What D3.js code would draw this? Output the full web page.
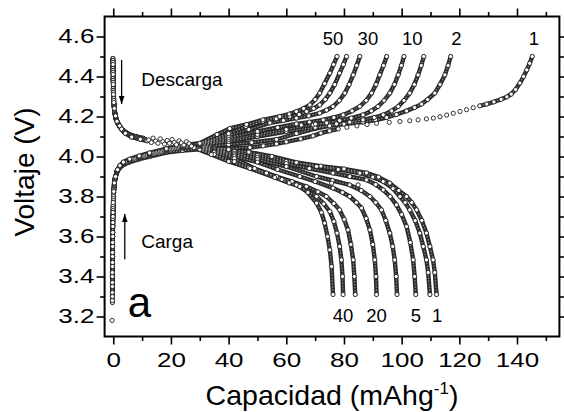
<!DOCTYPE html>
<html>
<head>
<meta charset="utf-8">
<script src="https://cdn.jsdelivr.net/npm/d3@7"></script>
<style>
  html, body { margin: 0; padding: 0; background: #fff; }
  svg { display: block; }
  text { font-family: "Liberation Sans", Arial, Helvetica, sans-serif; fill: #000; }
</style>
</head>
<body>
<svg id="chart" width="564" height="412"></svg>
<script>
// ---------------- data (capacity mAh/g, voltage V) ----------------
const cycles = [1, 2, 5, 10, 20, 30, 40, 50];

// Charge curves ("Carga"); null = break where the recorder sampled sparsely
const chargeC1 = [[-0.3,3.27],[-0.27,3.35],[-0.24,3.45],[-0.2,3.55],[-0.15,3.65],[-0.05,3.75],[0.15,3.82],[0.45,3.875],[1.2,3.918],[2.2,3.942],[3.5,3.958],[5.7,3.972],[9,3.987],[12.6,4.0],[18.4,4.02],[24,4.03],[30,4.036],[40,4.04],[47.4,4.045],[52,4.053],[56.6,4.063],[60,4.073],[65,4.088],[69.3,4.103],[72,4.117],[75,4.128],[78,4.138],
  null,[127.1,4.253],[129.5,4.262],[132,4.273],[134.5,4.286],[136.5,4.298],[138,4.312],[139.5,4.335],[141,4.367],[142.3,4.4],[143.4,4.433],[144.4,4.466],[145.3,4.5]];
const chargeC1Sparse = [[-0.4,3.18],[81,4.146],[84.5,4.153],[88,4.16],[91.3,4.166],[95.7,4.171],[99.4,4.175],[102.8,4.179],[105.7,4.183],[108.6,4.188],[111,4.192],[113.3,4.199],[115.6,4.207],[117.9,4.216],[120.2,4.225],[122.5,4.234],[124.8,4.244]];
const chargeC2 = [[-0.3,3.28],[-0.26,3.4],[-0.22,3.5],[-0.17,3.6],[-0.1,3.7],[0.05,3.78],[0.25,3.84],[0.55,3.883],[1.2,3.922],[2.2,3.946],[3.5,3.961],[5.7,3.976],[9,3.991],[12.6,4.005],[18.4,4.025],[24,4.04],[30,4.05],[40,4.06],[48,4.07],[56.6,4.085],[63.5,4.115],[70,4.14],[75,4.153],[80,4.162],[86.6,4.172],[91,4.182],[94.8,4.195],[98.2,4.21],[101.7,4.228],[104.5,4.245],[106.9,4.262],[109,4.285],[111.5,4.317],[113.3,4.36],[115,4.408],[116.1,4.455],[117,4.5]];
const chargeC5 = [[-0.3,3.3],[-0.26,3.4],[-0.22,3.5],[-0.17,3.6],[-0.1,3.7],[0.05,3.78],[0.25,3.84],[0.55,3.886],[1.2,3.925],[2.2,3.948],[3.5,3.963],[5.7,3.978],[9,3.993],[12.6,4.008],[18.4,4.028],[24,4.045],[30,4.055],[40,4.075],[50,4.1],[60,4.125],[70,4.145],[77.4,4.163],[82,4.172],[86.6,4.183],[90.5,4.195],[93.6,4.208],[96.5,4.228],[98.8,4.25],[100.8,4.28],[102.8,4.317],[104.4,4.36],[105.7,4.408],[106.8,4.455],[107.7,4.5]];
const chargeC10 = [[-0.3,3.32],[-0.25,3.42],[-0.2,3.52],[-0.15,3.62],[-0.08,3.72],[0.08,3.79],[0.3,3.85],[0.6,3.888],[1.3,3.927],[2.2,3.95],[3.5,3.965],[5.7,3.98],[9,3.995],[12.6,4.01],[18.4,4.03],[24,4.047],[30,4.058],[40,4.085],[50,4.11],[60,4.135],[69.3,4.158],[74,4.168],[78.5,4.18],[82.5,4.192],[86.6,4.208],[89.5,4.228],[91.8,4.25],[93.9,4.28],[95.9,4.317],[97.5,4.36],[98.8,4.408],[99.9,4.455],[100.8,4.5]];
const chargeC20 = [[-0.3,3.35],[-0.25,3.45],[-0.2,3.55],[-0.14,3.65],[-0.05,3.74],[0.1,3.8],[0.3,3.855],[0.65,3.89],[1.3,3.928],[2.2,3.951],[3.5,3.966],[5.7,3.981],[9,3.997],[12.6,4.012],[18.4,4.033],[24,4.05],[30,4.06],[40,4.095],[50,4.125],[57,4.145],[63.5,4.163],[68,4.172],[72.8,4.183],[76.5,4.195],[79.7,4.208],[82.8,4.228],[85.5,4.25],[87.7,4.28],[89.6,4.317],[91.1,4.36],[92.4,4.408],[93.7,4.455],[94.8,4.5]];
const chargeC30 = [[-0.3,3.37],[-0.25,3.47],[-0.2,3.57],[-0.13,3.67],[-0.04,3.75],[0.12,3.81],[0.35,3.86],[0.7,3.893],[1.4,3.93],[2.2,3.952],[3.5,3.968],[5.7,3.983],[9,3.999],[12.6,4.014],[18.4,4.035],[24,4.052],[30,4.062],[40,4.105],[47,4.135],[54.3,4.168],[59,4.18],[63.5,4.192],[67.8,4.203],[71.6,4.217],[74,4.232],[76.2,4.25],[78.4,4.28],[80.3,4.317],[81.8,4.36],[83.2,4.408],[84.4,4.455],[85.5,4.5]];
const chargeC40 = [[-0.3,3.4],[-0.25,3.5],[-0.19,3.6],[-0.12,3.69],[-0.03,3.76],[0.14,3.82],[0.38,3.865],[0.75,3.896],[1.5,3.932],[2.3,3.953],[3.5,3.97],[5.7,3.985],[9,4.001],[12.6,4.016],[18.4,4.037],[24,4.054],[30,4.064],[40,4.115],[46,4.15],[51.9,4.175],[56.5,4.188],[61.2,4.2],[64.5,4.21],[67,4.225],[69.5,4.24],[71.6,4.258],[73.5,4.285],[75.1,4.317],[76.8,4.36],[78.5,4.417],[79.8,4.46],[80.9,4.5]];
const chargeC50 = [[-0.3,3.42],[-0.24,3.52],[-0.18,3.62],[-0.1,3.7],[0,3.77],[0.16,3.825],[0.4,3.868],[0.8,3.9],[1.5,3.934],[2.3,3.955],[3.5,3.972],[5.7,3.987],[9,4.003],[12.6,4.018],[18.4,4.039],[24,4.056],[30,4.066],[36,4.11],[40.4,4.14],[46.2,4.16],[51.9,4.183],[57.7,4.2],[61,4.212],[63.5,4.225],[66,4.24],[68.2,4.258],[70,4.285],[71.6,4.317],[73.3,4.365],[75.1,4.417],[76.4,4.46],[77.6,4.5]];

// Discharge curves ("Descarga")
const dischargeC1 = [[-0.15,4.49],[-0.12,4.44],[-0.08,4.39],[-0.02,4.34],[0.08,4.3],[0.22,4.26],[0.45,4.222],[0.9,4.19],[1.5,4.167],[2.2,4.15],[3.5,4.13],[5.7,4.11],[8,4.1],[10.3,4.092],
  null,[28,4.058],[35,4.045],[40,4.035],[47,4.022],[55,4.0],[63.5,3.97],[72,3.952],[80,3.938],[87.8,3.918],[92,3.897],[95.9,3.867],[99,3.83],[101.7,3.8],[103.5,3.77],[105.2,3.733],[107,3.68],[108.6,3.617],[109.8,3.55],[110.9,3.483],[111.5,3.42],[112.1,3.31]];
const dischargeC2 = [[-0.12,4.49],[-0.1,4.44],[-0.06,4.39],[0,4.34],[0.1,4.3],[0.25,4.26],[0.5,4.222],[0.95,4.19],[1.6,4.166],[2.3,4.149],[3.6,4.128],[5.8,4.109],[8.2,4.098],[10.5,4.09],
  null,[28,4.056],[35,4.04],[42,4.025],[50,4.005],[60,3.975],[70.5,3.95],[78,3.935],[85.5,3.917],[90,3.897],[93.6,3.875],[97,3.84],[99.4,3.8],[101.2,3.77],[102.8,3.733],[104.7,3.68],[106.3,3.617],[107.5,3.55],[108.6,3.483],[109.2,3.42],[109.8,3.31]];
const dischargeC5 = [[-0.1,4.48],[-0.08,4.43],[-0.04,4.38],[0.02,4.33],[0.12,4.29],[0.28,4.25],[0.55,4.215],[1.0,4.186],[1.7,4.163],[2.4,4.147],[3.7,4.126],[5.9,4.107],[8.4,4.096],[10.7,4.088],
  null,[28,4.054],[35,4.035],[42,4.015],[50,3.995],[60,3.965],[68,3.94],[76.2,3.917],[82,3.9],[87.8,3.883],[91,3.86],[93.6,3.833],[96,3.8],[98.2,3.758],[100,3.71],[101.7,3.65],[103,3.57],[104,3.483],[104.5,3.4],[104.9,3.31]];
const dischargeC10 = [[-0.1,4.48],[-0.07,4.43],[-0.03,4.38],[0.03,4.33],[0.14,4.29],[0.3,4.25],[0.6,4.213],[1.05,4.184],[1.8,4.161],[2.5,4.145],[3.8,4.124],[6.0,4.105],[8.6,4.094],[10.9,4.086],
  null,[28,4.052],[35,4.03],[42,4.008],[50,3.985],[60,3.95],[70.5,3.9],[76,3.88],[82,3.858],[86,3.83],[89,3.8],[91,3.77],[93,3.733],[94.5,3.68],[95.9,3.617],[96.9,3.55],[97.6,3.483],[98.1,3.4],[98.4,3.31]];
const dischargeC20 = [[-0.08,4.48],[-0.06,4.43],[-0.02,4.38],[0.05,4.33],[0.16,4.29],[0.33,4.25],[0.65,4.21],[1.1,4.182],[1.9,4.159],[2.6,4.143],[3.9,4.122],[6.1,4.103],[8.8,4.092],[11.1,4.084],
  null,[28,4.05],[35,4.025],[42,4.0],[50,3.972],[57,3.935],[64.7,3.9],[70,3.875],[76.2,3.842],[79.5,3.82],[82,3.8],[84.3,3.77],[86.1,3.742],[87.7,3.69],[89,3.633],[90,3.56],[90.7,3.483],[91.1,3.4],[91.3,3.31]];
const dischargeC30 = [[-0.08,4.47],[-0.05,4.42],[-0.01,4.37],[0.06,4.32],[0.18,4.28],[0.36,4.245],[0.7,4.207],[1.2,4.18],[2.0,4.157],[2.7,4.141],[4.0,4.12],[6.2,4.101],[9.0,4.09],[11.3,4.082],
  null,[28,4.048],[35,4.02],[42,3.99],[49,3.94],[56.6,3.9],[62,3.875],[67,3.85],[71,3.823],[73.9,3.8],[76.5,3.765],[78.5,3.733],[80.1,3.685],[81.4,3.633],[82.4,3.56],[83.2,3.483],[83.6,3.4],[83.9,3.31]];
const dischargeC40 = [[-0.06,4.47],[-0.04,4.42],[0,4.37],[0.07,4.32],[0.2,4.28],[0.38,4.243],[0.75,4.205],[1.25,4.178],[2.1,4.155],[2.8,4.139],[4.1,4.118],[6.3,4.099],[9.2,4.088],[11.5,4.08],
  null,[28,4.046],[35,4.01],[42,3.975],[47,3.945],[53.1,3.917],[58.5,3.885],[63.5,3.858],[67.5,3.825],[70.5,3.8],[73,3.763],[75.1,3.725],[76.5,3.675],[77.6,3.617],[78.5,3.55],[79.1,3.483],[79.5,3.4],[79.7,3.31]];
const dischargeC50 = [[-0.05,4.46],[-0.03,4.41],[0.01,4.36],[0.08,4.31],[0.22,4.27],[0.4,4.24],[0.8,4.203],[1.3,4.176],[2.2,4.153],[2.9,4.137],[4.2,4.116],[6.4,4.097],[9.4,4.086],[11.7,4.078],
  null,[28,4.044],[34,4.01],[40,3.975],[47.4,3.94],[56,3.895],[61,3.868],[64.7,3.85],[67.5,3.82],[70.5,3.767],[72.2,3.72],[73.3,3.667],[74.3,3.6],[75.1,3.533],[75.7,3.45],[76.2,3.31]];
// isolated points (sparse sampling on the flat part right after the start of discharge, and strays)
const dischargeSparse = [[12.3,4.083],[13.2,4.07],[13.8,4.092],[14.7,4.077],[15.5,4.066],[16.3,4.088],[17.2,4.074],[17.8,4.062],[18.7,4.08],[19.5,4.066],[20.4,4.085],[21.2,4.07],[21.9,4.059],[22.8,4.078],[23.6,4.068],[24.5,4.057],[25.4,4.074],[26.3,4.064],[27.1,4.052],[75.7,3.867],[84.9,3.858],[65.2,4.157],[70.1,4.162]];

// tick values & labels
const xMajor = [0, 20, 40, 60, 80, 100, 120, 140];
const xMinor = [10, 30, 50, 70, 90, 110, 130, 150];
const yMajor = [3.2, 3.4, 3.6, 3.8, 4.0, 4.2, 4.4, 4.6];
const yMinor = [3.3, 3.5, 3.7, 3.9, 4.1, 4.3, 4.5];
const topLabels = ["50", "30", "10", "2", "1"];
const topLabelX = [76.2, 88.3, 103.7, 119.0, 145.9];
const bottomLabels = ["40", "20", "5", "1"];
const bottomLabelX = [79.7, 91.3, 104.9, 112.3];
const xTitle = "Capacidad (mAhg";
const xTitleSup = "-1";
const yTitle = "Voltaje (V)";

// ---------------- drawing ----------------
const svg = d3.select("#chart");
const L = 104.6, R = 559.4, T = 16.5, B = 336.5;
const x = d3.scaleLinear().domain([-3, 154.7]).range([L, R]);
const y = d3.scaleLinear().domain([3.1, 4.7]).range([B, T]);

const traces = [chargeC1, chargeC2, chargeC5, chargeC10, chargeC20, chargeC30, chargeC40, chargeC50,
                dischargeC1, dischargeC2, dischargeC5, dischargeC10, dischargeC20, dischargeC30, dischargeC40, dischargeC50];

const plot = svg.append("g");
const line = d3.line().defined(d => d !== null).x(d => x(d[0])).y(d => y(d[1]));

// dense sampled parts of the curves (overlapping open circles)
plot.selectAll("path.band").data(traces).join("path")
  .attr("class", "band")
  .attr("d", line)
  .attr("fill", "none").attr("stroke", "#2a2a2a").attr("stroke-width", 4.4)
  .attr("stroke-linecap", "round").attr("stroke-linejoin", "round");
plot.selectAll("path.core").data(traces).join("path")
  .attr("class", "core")
  .attr("d", line)
  .attr("fill", "none").attr("stroke", "#9a9a9a").attr("stroke-width", 1.1)
  .attr("stroke-dasharray", "1.4,1.6");

const allPts = traces.flat().filter(d => d !== null).concat(chargeC1Sparse, dischargeSparse);
plot.selectAll("circle.pt").data(allPts).join("circle")
  .attr("class", "pt")
  .attr("cx", d => x(d[0])).attr("cy", d => y(d[1])).attr("r", 2.1)
  .attr("fill", "#fff").attr("stroke", "#1e1e1e").attr("stroke-width", 0.9);

// axes
function styleAxis(g) {
  g.select(".domain").remove();
  g.selectAll(".tick line").attr("stroke", "#000").attr("stroke-width", 1.6);
  g.selectAll("text").attr("font-size", 20).attr("fill", "#000")
    .attr("font-family", '"Liberation Sans", Arial, sans-serif');
}
const SX = 1.3; // tick labels are drawn wide in the original
svg.append("g").attr("transform", `translate(0,${B})`)
  .call(d3.axisBottom(x).tickValues(xMajor).tickSize(8).tickPadding(8).tickFormat(d3.format("d"))).call(styleAxis)
  .selectAll("text").attr("transform", `scale(${SX},1)`);
svg.append("g").attr("transform", `translate(0,${B})`)
  .call(d3.axisBottom(x).tickValues(xMinor).tickSize(4.5).tickFormat("")).call(styleAxis);
svg.append("g").attr("transform", `translate(0,${T})`)
  .call(d3.axisTop(x).tickValues(xMajor).tickSize(8).tickFormat("")).call(styleAxis);
svg.append("g").attr("transform", `translate(0,${T})`)
  .call(d3.axisTop(x).tickValues(xMinor).tickSize(4.5).tickFormat("")).call(styleAxis);
svg.append("g").attr("transform", `translate(${L},0)`)
  .call(d3.axisLeft(y).tickValues(yMajor).tickSize(8).tickPadding(2).tickFormat(d3.format(".1f"))).call(styleAxis)
  .selectAll("text").attr("x", -10.2 / SX).attr("transform", `scale(${SX},1)`);
svg.append("g").attr("transform", `translate(${L},0)`)
  .call(d3.axisLeft(y).tickValues(yMinor).tickSize(4.5).tickFormat("")).call(styleAxis);
svg.append("g").attr("transform", `translate(${R},0)`)
  .call(d3.axisRight(y).tickValues(yMajor).tickSize(8).tickFormat("")).call(styleAxis);
svg.append("g").attr("transform", `translate(${R},0)`)
  .call(d3.axisRight(y).tickValues(yMinor).tickSize(4.5).tickFormat("")).call(styleAxis);

// frame
svg.append("rect").attr("x", L).attr("y", T).attr("width", R - L).attr("height", B - T)
  .attr("fill", "none").attr("stroke", "#000").attr("stroke-width", 2);

// cycle labels
svg.selectAll("text.tl").data(topLabels).join("text").attr("class", "tl")
  .attr("x", (d, i) => x(topLabelX[i])).attr("y", y(4.557))
  .attr("text-anchor", "middle").attr("font-size", 18.5).text(d => d);
svg.selectAll("text.bl").data(bottomLabels).join("text").attr("class", "bl")
  .attr("x", (d, i) => x(bottomLabelX[i])).attr("y", y(3.174))
  .attr("text-anchor", "middle").attr("font-size", 18.5).text(d => d);

// annotations
svg.append("defs").append("marker").attr("id", "ah").attr("viewBox", "0 0 10 10")
  .attr("refX", 10).attr("refY", 5).attr("markerWidth", 8).attr("markerHeight", 8)
  .attr("markerUnits", "userSpaceOnUse").attr("orient", "auto")
  .append("path").attr("d", "M0,1.5 L10,5 L0,8.5 Z").attr("fill", "#000");
svg.append("line").attr("x1", x(2.9)).attr("x2", x(2.9)).attr("y1", y(4.483)).attr("y2", y(4.262))
  .attr("stroke", "#000").attr("stroke-width", 1.3).attr("marker-end", "url(#ah)");
svg.append("line").attr("x1", x(4.0)).attr("x2", x(4.0)).attr("y1", y(3.486)).attr("y2", y(3.713))
  .attr("stroke", "#000").attr("stroke-width", 1.3).attr("marker-end", "url(#ah)");
svg.append("text").attr("x", x(9.7)).attr("y", y(4.3525)).attr("font-size", 19).text("Descarga");
svg.append("text").attr("x", x(9.7)).attr("y", y(3.541)).attr("font-size", 19).text("Carga");
svg.append("text").attr("x", x(5.0)).attr("y", y(3.199)).attr("font-size", 42).text("a");

// axis titles
const xt = svg.append("text").attr("x", (L + R) / 2).attr("y", 405).attr("text-anchor", "middle").attr("font-size", 28.5);
xt.append("tspan").text(xTitle);
xt.append("tspan").attr("font-size", 17).attr("dy", -11).text(xTitleSup);
xt.append("tspan").attr("dy", 11).text(")");
svg.append("text").attr("transform", "translate(33.5,172) rotate(-90)")
  .attr("text-anchor", "middle").attr("font-size", 28).text(yTitle);
</script>
</body>
</html>
